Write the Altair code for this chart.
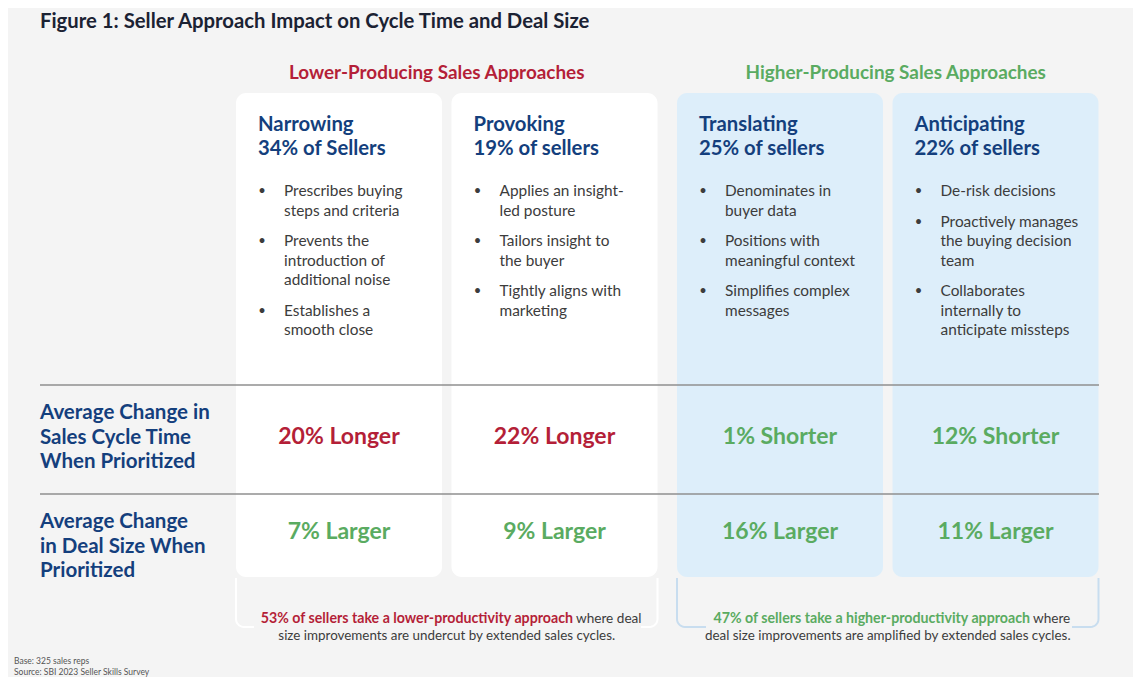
import altair as alt
import pandas as pd
import numpy as np

# ---------------- data ----------------
title = "Figure 1: Seller Approach Impact on Cycle Time and Deal Size"
group_names = ["Lower-Producing Sales Approaches", "Higher-Producing Sales Approaches"]
approaches = ["Narrowing", "Provoking", "Translating", "Anticipating"]
seller_shares = ["34% of Sellers", "19% of sellers", "25% of sellers", "22% of sellers"]
approach_group = [0, 0, 1, 1]
bullets = [
    [["Prescribes buying", "steps and criteria"], ["Prevents the", "introduction of", "additional noise"],
     ["Establishes a", "smooth close"]],
    [["Applies an insight-", "led posture"], ["Tailors insight to", "the buyer"],
     ["Tightly aligns with", "marketing"]],
    [["Denominates in", "buyer data"], ["Positions with", "meaningful context"],
     ["Simplifies complex", "messages"]],
    [["De-risk decisions"], ["Proactively manages", "the buying decision", "team"],
     ["Collaborates", "internally to", "anticipate missteps"]],
]
row_labels = [["Average Change in", "Sales Cycle Time", "When Prioritized"],
              ["Average Change", "in Deal Size When", "Prioritized"]]
cycle_time_change = ["20% Longer", "22% Longer", "1% Shorter", "12% Shorter"]
deal_size_change = ["7% Larger", "9% Larger", "16% Larger", "11% Larger"]
summary_bold = ["53% of sellers take a lower-productivity approach",
                "47% of sellers take a higher-productivity approach"]
summary_tail = ["where deal", "where"]
summary_line2 = ["size improvements are undercut by extended sales cycles.",
                 "deal size improvements are amplified by extended sales cycles."]
footnotes = ["Base: 325 sales reps", "Source: SBI 2023 Seller Skills Survey"]

# ---------------- style ----------------
BG = "#f4f4f4"
TITLE_C = "#1b2233"
NAVY = "#143f7d"
RED = "#b41f38"
GREEN = "#5aab61"
TEXT_C = "#3c3c3c"
CARD_FILL = ["#ffffff", "#ddeefa"]
BRACKET_C = ["#ffffff", "#c8ddef"]
RULE_C = "#8f8f8f"
GROUP_C = [RED, GREEN]
VALUE_C = [RED, RED, GREEN, GREEN]
HEAD_FONT = "Lato"
BODY_FONT = "Lato"

W, H = 1141, 684
xs = alt.Scale(domain=[8, W - 8], nice=False, zero=False)
ys = alt.Scale(domain=[H - 8, 8], nice=False, zero=False)
X = alt.X("x:Q", scale=xs, axis=None)
Y = alt.Y("y:Q", scale=ys, axis=None)

# layout
card_w = 206
card_top, card_bot = 93, 577
col_left = [236 + i * 215.5 + 10 * g for i, g in enumerate(approach_group)]
col_center = [l + card_w / 2 for l in col_left]
group_center = [(col_left[2 * g] + col_left[2 * g + 1] + card_w) / 2 for g in range(2)]
header_shift = [-10, 8]


def text_layer(rows, size, weight="normal", color=TEXT_C, align="left", font=BODY_FONT):
    df = pd.DataFrame(rows, columns=["x", "y", "t"])
    return alt.Chart(df).mark_text(
        align=align, baseline="middle", fontSize=size, fontWeight=weight,
        color=color, font=font
    ).encode(x=X, y=Y, text="t:N")


layers = []

# cards
cards = pd.DataFrame({
    "x": col_left,
    "x2": [l + card_w for l in col_left],
    "y": [card_top] * 4,
    "y2": [card_bot] * 4,
    "fill": [CARD_FILL[g] for g in approach_group],
})
layers.append(alt.Chart(cards).mark_rect(cornerRadius=10).encode(
    x=X, x2="x2:Q", y=Y, y2="y2:Q", fill=alt.Fill("fill:N", scale=None)))

# separator rules
rules = pd.DataFrame({"x": [40, 40], "x2": [1099, 1099], "y": [385, 494]})
layers.append(alt.Chart(rules).mark_rule(color=RULE_C, strokeWidth=1.5).encode(
    x=X, x2="x2:Q", y=Y))

# brackets under each group
br_rows = []
r = 8
bottom = 627
gaps = [(254, 641), (706, 1072)]
for g in range(2):
    left = col_left[2 * g]
    right = col_left[2 * g + 1] + card_w
    a = np.linspace(np.pi, np.pi / 2, 8)
    seg = [(left, 578), (left, bottom - r)]
    seg += [(left + r + r * np.cos(t), bottom - r + r * np.sin(t)) for t in a]
    seg += [(gaps[g][0], bottom)]
    for i, (px, py) in enumerate(seg):
        br_rows.append({"x": px, "y": py, "seg": f"{g}L", "i": i, "c": BRACKET_C[g]})
    a2 = np.linspace(np.pi / 2, 0, 8)
    seg = [(gaps[g][1], bottom)]
    seg += [(right - r + r * np.cos(t), bottom - r + r * np.sin(t)) for t in a2]
    seg += [(right, 578)]
    for i, (px, py) in enumerate(seg):
        br_rows.append({"x": px, "y": py, "seg": f"{g}R", "i": i, "c": BRACKET_C[g]})
layers.append(alt.Chart(pd.DataFrame(br_rows)).mark_line(strokeWidth=2).encode(
    x=X, y=Y, detail="seg:N", order="i:Q", color=alt.Color("c:N", scale=None)))

# title
layers.append(text_layer([(40, 22, title)], 20.3, "bold", TITLE_C, font=HEAD_FONT))

# group headers
for g in range(2):
    layers.append(text_layer([(group_center[g] + header_shift[g], 73, group_names[g])], 18.9,
                             "bold", GROUP_C[g], "center", HEAD_FONT))

# card headers
hdr = []
for i in range(4):
    hdr.append((col_left[i] + 22, 125, approaches[i]))
    hdr.append((col_left[i] + 22, 149, seller_shares[i]))
layers.append(text_layer(hdr, 20.3, "bold", NAVY, font=HEAD_FONT))

# bullets
dots, lines = [], []
for i in range(4):
    y = 191
    for b in bullets[i]:
        dots.append((col_left[i] + 26, y, "•"))
        for ln in b:
            lines.append((col_left[i] + 48, y, ln))
            y += 19.5
        y += 11
layers.append(text_layer(dots, 13, "normal", TEXT_C, "center"))
layers.append(text_layer(lines, 15.4, "normal", TEXT_C))

# row labels
rl = []
for k, y0 in enumerate([413, 522]):
    for j, ln in enumerate(row_labels[k]):
        rl.append((40, y0 + j * 24.5, ln))
layers.append(text_layer(rl, 20.5, "bold", NAVY, font=HEAD_FONT))

# values
for i in range(4):
    layers.append(text_layer([(col_center[i], 437, cycle_time_change[i])], 23, "bold",
                             VALUE_C[i], "center", HEAD_FONT))
layers.append(text_layer([(col_center[i], 532, deal_size_change[i]) for i in range(4)], 23,
                         "bold", GREEN, "center", HEAD_FONT))

# summaries
tail_x = [576, 1033]
for g in range(2):
    layers.append(text_layer([(tail_x[g] - 3, 619, summary_bold[g])], 14.2, "bold",
                             GROUP_C[g], "right"))
    layers.append(text_layer([(tail_x[g], 619, summary_tail[g])], 13.6, "normal", TEXT_C))
    layers.append(text_layer([(group_center[g], 636, summary_line2[g])], 13.4, "normal",
                             TEXT_C, "center"))

# footnotes
layers.append(text_layer([(14, 661, footnotes[0]), (14, 672, footnotes[1])], 8.5, "normal",
                         "#555555"))

chart = alt.layer(*layers).properties(width=W - 16, height=H - 16, padding=0).configure(
    background=BG).configure_view(strokeWidth=0)

chart.save("out.html", embed_options={"renderer": "svg", "actions": False})
